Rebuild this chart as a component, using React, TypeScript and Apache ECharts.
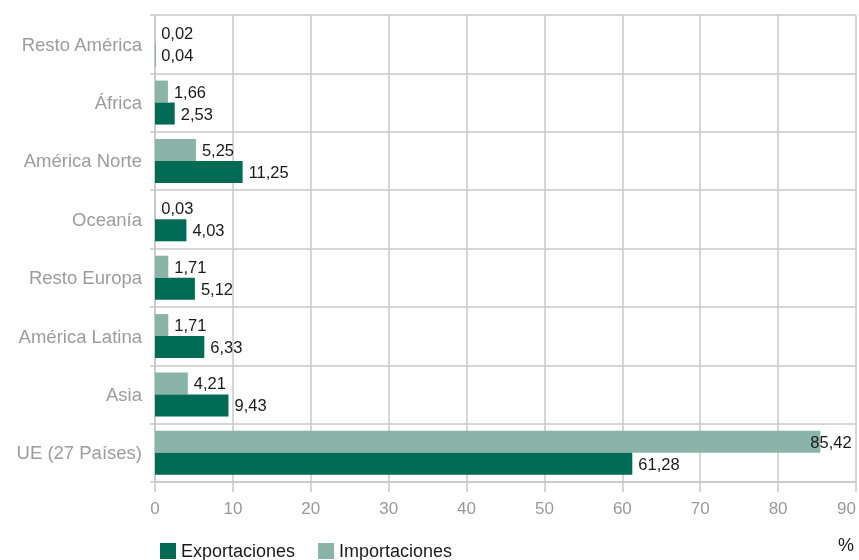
import React, { useEffect, useRef } from "react";
import * as echarts from "echarts";

const categories = [
  "UE (27 Países)",
  "Asia",
  "América Latina",
  "Resto Europa",
  "Oceanía",
  "América Norte",
  "África",
  "Resto América",
];
const exportaciones = [61.28, 9.43, 6.33, 5.12, 4.03, 11.25, 2.53, 0.04];
const importaciones = [85.42, 4.21, 1.71, 1.71, 0.03, 5.25, 1.66, 0.02];
const xTicks = { min: 0, max: 90, interval: 10 };

const DARK = "#006b54";
const LIGHT = "#8ab4a8";
const GRID = "#c8c8cc";
const FONT = "'Liberation Sans', Arial, sans-serif";

const fmt = (v: number) => v.toFixed(2).replace(".", ",");

export default function App() {
  const ref = useRef<HTMLDivElement>(null);
  useEffect(() => {
    if (!ref.current) return;
    const chart = echarts.init(ref.current, null, { renderer: "svg" });
    const label = {
      show: true,
      position: "right" as const,
      distance: 6,
      color: "#1a1a1a",
      fontSize: 16.5,
      fontFamily: FONT,
      formatter: (p: any) => fmt(p.value as number),
    };
    chart.setOption({
      animation: false,
      textStyle: { fontFamily: FONT },
      grid: { left: 155, right: 2, top: 15, bottom: 78, containLabel: false },
      legend: {
        left: 155,
        top: 537,
        itemWidth: 16,
        itemHeight: 16,
        itemGap: 23,
        icon: "rect",
        textStyle: { fontSize: 18, color: "#1a1a1a", fontFamily: FONT },
        data: ["Exportaciones", "Importaciones"],
      },
      xAxis: {
        type: "value",
        min: xTicks.min,
        max: xTicks.max,
        interval: xTicks.interval,
        axisLine: { show: true, lineStyle: { color: GRID, width: 1.5 } },
        axisTick: { show: true, length: 10, lineStyle: { color: GRID, width: 1.5 } },
        splitLine: { show: true, lineStyle: { color: GRID, width: 1.5 } },
        axisLabel: {
          color: "#999999",
          fontSize: 17,
          margin: 18,
          fontFamily: FONT,
          alignMaxLabel: "right",
        },
      },
      yAxis: {
        type: "category",
        data: categories,
        axisLine: { show: true, lineStyle: { color: GRID, width: 1.5 } },
        axisTick: { show: true, length: 5, lineStyle: { color: GRID, width: 1.5 } },
        splitLine: { show: true, lineStyle: { color: GRID, width: 1.5 } },
        axisLabel: { color: "#9c9c9c", fontSize: 18.5, margin: 13, fontFamily: FONT },
      },
      graphic: [
        {
          type: "text",
          left: 838,
          top: 536,
          style: { text: "%", fontSize: 18, fill: "#1a1a1a", fontFamily: FONT },
        },
      ],
      series: [
        {
          name: "Importaciones",
          type: "bar",
          data: importaciones.map((v, i) =>
            i === 0 ? { value: v, label: { offset: [-16, 0] } } : v
          ),
          barWidth: 22,
          barGap: "0%",
          itemStyle: { color: LIGHT },
          label,
        },
        {
          name: "Exportaciones",
          type: "bar",
          data: exportaciones,
          barWidth: 22,
          barGap: "0%",
          itemStyle: { color: DARK },
          label,
        },
      ],
    });
    return () => chart.dispose();
  }, []);
  return (
    <div
      ref={ref}
      style={{ position: "fixed", left: 0, top: 0, width: 859, height: 560 }}
    />
  );
}
